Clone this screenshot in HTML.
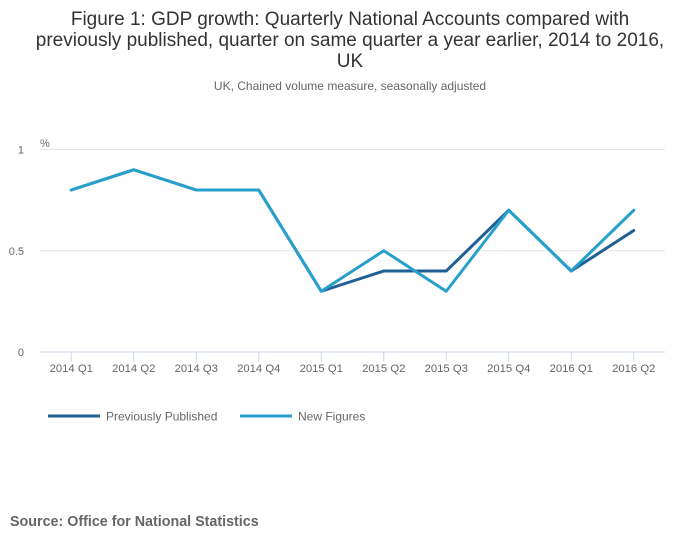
<!DOCTYPE html>
<html><head><meta charset="utf-8"><style>
body{margin:0;background:#fff;font-family:"Liberation Sans",sans-serif;}
#wrap{position:relative;width:700px;height:549px;overflow:hidden;}
</style></head><body><div id="wrap">
<svg id="chart" width="700" height="549" font-family="Liberation Sans, sans-serif">
<text x="350" y="25" text-anchor="middle" font-size="19" fill="#333">Figure 1: GDP growth: Quarterly National Accounts compared with</text>
<text x="350" y="46" text-anchor="middle" font-size="19" fill="#333">previously published, quarter on same quarter a year earlier, 2014 to 2016,</text>
<text x="350" y="67" text-anchor="middle" font-size="19" fill="#333">UK</text>
<text x="350" y="90" text-anchor="middle" font-size="12" fill="#666">UK, Chained volume measure, seasonally adjusted</text>
<text x="40" y="147" font-size="11" fill="#666">%</text>
<g id="grid"></g><g id="xaxis"></g><g id="series"></g>
<g>
<line x1="48" y1="416" x2="100" y2="416" stroke="#206095" stroke-width="3"/>
<text x="106" y="420.5" font-size="12" fill="#666">Previously Published</text>
<line x1="240" y1="416" x2="292" y2="416" stroke="#27a0cc" stroke-width="3"/>
<text x="298" y="420.5" font-size="12" fill="#666">New Figures</text>
</g>
<text x="10" y="526" font-size="14.3" font-weight="bold" fill="#666">Source: Office for National Statistics</text>
</svg></div>
<script>
const categories=["2014 Q1","2014 Q2","2014 Q3","2014 Q4","2015 Q1","2015 Q2","2015 Q3","2015 Q4","2016 Q1","2016 Q2"];
const previouslyPublished=[0.8,0.9,0.8,0.8,0.3,0.4,0.4,0.7,0.4,0.6];
const newFigures=[0.8,0.9,0.8,0.8,0.3,0.5,0.3,0.7,0.4,0.7];
const yTicks=[0,0.5,1];
const yTickLabels=["0","0.5","1"];
const NS="http://www.w3.org/2000/svg";
const L=40,R=665,T=149.5,B=352;
const band=(R-L)/categories.length;
const x=i=>L+band*(i+0.5);
const y=v=>B-(v/1)*(B-T);
function mk(tag,attrs,parent){const e=document.createElementNS(NS,tag);for(const k in attrs)e.setAttribute(k,attrs[k]);parent.appendChild(e);return e;}
const grid=document.getElementById('grid');
yTicks.forEach((t,i)=>{
 if(t!==0){const g=mk('line',{x1:L,x2:R,y1:y(t),y2:y(t),stroke:'#e6e6e6','stroke-width':1},grid);
 
 }
 const tx=mk('text',{x:24,y:y(t)+4,'text-anchor':'end','font-size':11,fill:'#666'},grid);
 tx.textContent=yTickLabels[i];
 
 
});
const xa=document.getElementById('xaxis');
const ax=mk('line',{x1:L,x2:R,y1:B,y2:B,stroke:'#ccd6eb','stroke-width':1},xa);


categories.forEach((c,i)=>{
 const tk=mk('line',{x1:x(i),x2:x(i),y1:B,y2:B+10,stroke:'#ccd6eb'},xa);
 
 
 const t=mk('text',{x:x(i),y:372,'text-anchor':'middle','font-size':11.3,fill:'#666'},xa);
 t.textContent=c;
 
 
});
const s=document.getElementById('series');
function line(data,color,name){
 const p=mk('polyline',{points:data.map((v,i)=>x(i)+','+y(v)).join(' '),fill:'none',stroke:color,'stroke-width':3,'stroke-linejoin':'round','stroke-linecap':'round'},s);
 
 
}
line(previouslyPublished,'#206095','series-previously-published');
line(newFigures,'#27a0cc','series-new-figures');
</script></body></html>
